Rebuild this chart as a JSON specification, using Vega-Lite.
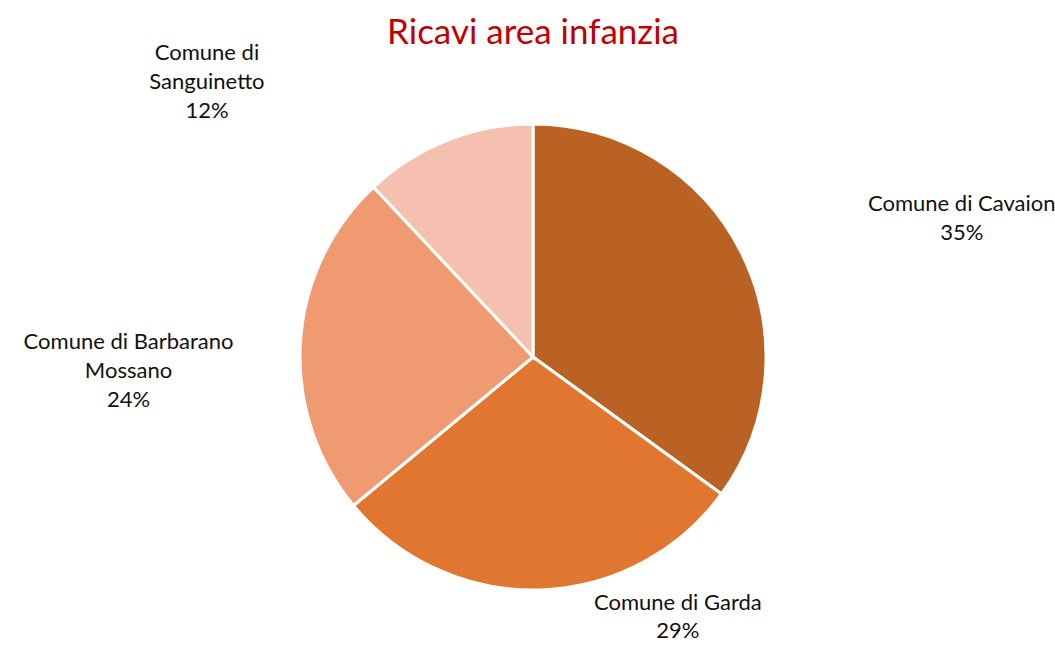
{
  "$schema": "https://vega.github.io/schema/vega-lite/v6.json",
  "width": 1034,
  "height": 574,
  "autosize": "none",
  "padding": {"left": 16, "right": 5, "top": 70, "bottom": 2},
  "background": "white",
  "view": {"stroke": null},
  "title": {"text": "Ricavi area infanzia", "font": "Lato", "fontSize": 35, "fontWeight": "normal", "color": "#C00000", "anchor": "middle", "frame": "group", "offset": 19, "dy": 28},
  "data": {"values": [
    {"category": "Comune di Cavaion", "value": 35, "ord": 1, "label": "Comune di Cavaion|35%"},
    {"category": "Comune di Garda", "value": 29, "ord": 2, "label": "Comune di Garda|29%"},
    {"category": "Comune di Barbarano Mossano", "value": 24, "ord": 3, "label": "Comune di Barbarano|Mossano|24%"},
    {"category": "Comune di Sanguinetto", "value": 12, "ord": 4, "label": "Comune di|Sanguinetto|12%"}
  ]},
  "encoding": {
    "theta": {"field": "value", "type": "quantitative", "stack": true},
    "order": {"field": "ord", "type": "quantitative"}
  },
  "layer": [
    {
      "mark": {"type": "arc", "radius": 233, "stroke": "white", "strokeWidth": 3},
      "encoding": {
        "color": {"field": "category", "type": "nominal", "legend": null,
          "scale": {"domain": ["Comune di Cavaion", "Comune di Garda", "Comune di Barbarano Mossano", "Comune di Sanguinetto"],
                    "range": ["#B96224", "#E0762F", "#F09A72", "#F5C0AF"]}}
      }
    },
    {
      "mark": {"type": "text", "radius": 250, "dx": 206, "dy": -40, "font": "Lato", "fontSize": 22, "lineBreak": "|", "lineHeight": 29, "color": "#111111", "align": "center", "baseline": "middle"},
      "encoding": {
        "detail": {"field": "category", "type": "nominal"},
        "text": {"condition": {"test": "datum.category === 'Comune di Cavaion'", "field": "label"}, "value": ""}
      }
    },
    {
      "mark": {"type": "text", "radius": 250, "dx": 137, "dy": -4, "font": "Lato", "fontSize": 22, "lineBreak": "|", "lineHeight": 28, "color": "#111111", "align": "center", "baseline": "middle"},
      "encoding": {
        "detail": {"field": "category", "type": "nominal"},
        "text": {"condition": {"test": "datum.category === 'Comune di Garda'", "field": "label"}, "value": ""}
      }
    },
    {
      "mark": {"type": "text", "radius": 250, "dx": -155, "dy": 1, "font": "Lato", "fontSize": 22, "lineBreak": "|", "lineHeight": 29, "color": "#111111", "align": "center", "baseline": "middle"},
      "encoding": {
        "detail": {"field": "category", "type": "nominal"},
        "text": {"condition": {"test": "datum.category === 'Comune di Barbarano Mossano'", "field": "label"}, "value": ""}
      }
    },
    {
      "mark": {"type": "text", "radius": 250, "dx": -234, "dy": -72, "font": "Lato", "fontSize": 22, "lineBreak": "|", "lineHeight": 29, "color": "#111111", "align": "center", "baseline": "middle"},
      "encoding": {
        "detail": {"field": "category", "type": "nominal"},
        "text": {"condition": {"test": "datum.category === 'Comune di Sanguinetto'", "field": "label"}, "value": ""}
      }
    }
  ]
}
